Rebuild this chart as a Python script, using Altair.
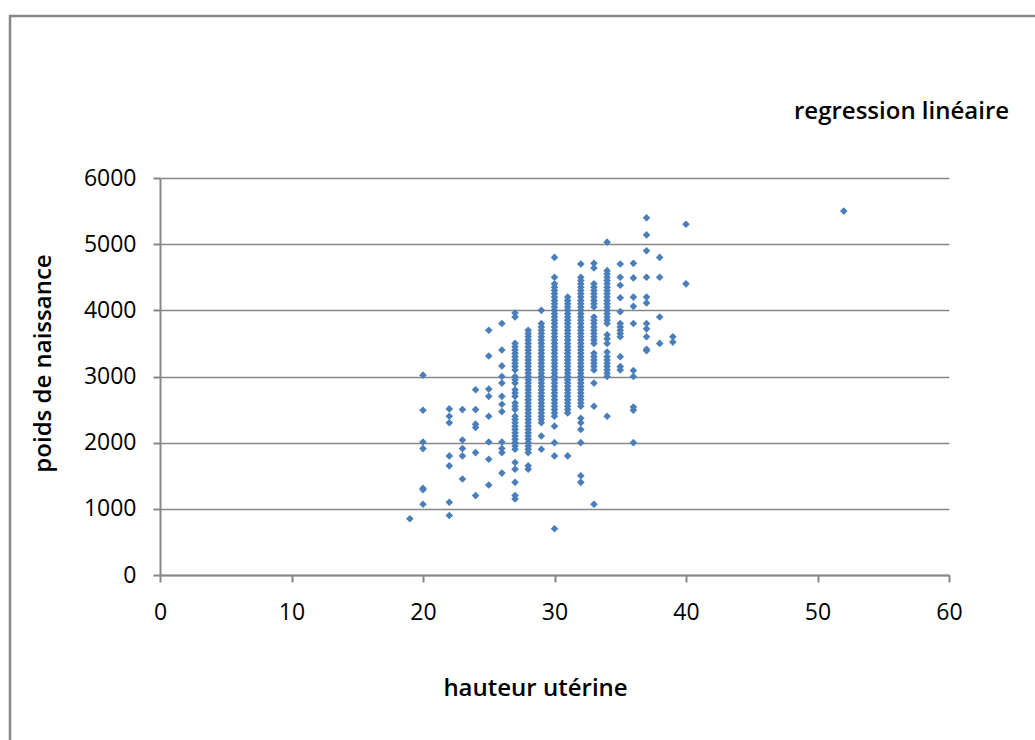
import altair as alt
import pandas as pd

# Birth weight (g) observed for each uterine height (cm)
weights_by_height = {
    19: [850],
    20: [3020, 2490, 2010, 1910, 1310, 1290, 1070],
    22: [2510, 2400, 2300, 1800, 1650, 1100, 900],
    23: [2500, 2040, 1910, 1800, 1450],
    24: [2800, 2500, 2280, 2230, 1850, 1200],
    25: [3700, 3310, 2810, 2700, 2400, 2010, 1750, 1360],
    26: [3800, 3400, 3160, 3000, 2900, 2700, 2580, 2470, 2010, 1910, 1850, 1540],
    27: [3960, 3900, 3500, 3450, 3400, 3350, 3300, 3250, 3200, 3150, 3100,
         3000, 2950, 2900, 2800, 2750, 2700, 2600, 2550, 2500, 2400, 2350,
         2300, 2250, 2200, 2150, 2100, 2050, 2000, 1950, 1900, 1700, 1600,
         1400, 1200, 1150],
    28: [3700, 3650, 3600, 3550, 3500, 3450, 3400, 3350, 3300, 3250, 3200,
         3150, 3100, 3050, 3000, 2950, 2900, 2850, 2800, 2750, 2700, 2650,
         2600, 2550, 2500, 2450, 2400, 2350, 2300, 2250, 2200, 2150, 2100,
         2050, 2000, 1950, 1900, 1850, 1650, 1600],
    29: [4000, 3800, 3750, 3700, 3650, 3600, 3550, 3500, 3450, 3400, 3350,
         3300, 3250, 3200, 3150, 3100, 3050, 3000, 2950, 2900, 2850, 2800,
         2750, 2700, 2650, 2600, 2550, 2500, 2450, 2400, 2350, 2300, 2100,
         1900],
    30: [4800, 4500, 4400, 4350, 4300, 4250, 4200, 4150, 4100, 4050, 4000,
         3950, 3900, 3850, 3800, 3750, 3700, 3650, 3600, 3550, 3500, 3450,
         3400, 3350, 3300, 3250, 3200, 3150, 3100, 3050, 3000, 2950, 2900,
         2850, 2800, 2750, 2700, 2650, 2600, 2550, 2500, 2450, 2400, 2250,
         2000, 1800, 700],
    31: [4200, 4150, 4100, 4050, 4000, 3950, 3900, 3850, 3800, 3750, 3700,
         3650, 3600, 3550, 3500, 3450, 3400, 3350, 3300, 3250, 3200, 3150,
         3100, 3050, 3000, 2950, 2900, 2850, 2800, 2750, 2700, 2650, 2600,
         2550, 2500, 2450, 1800],
    32: [4700, 4500, 4450, 4400, 4350, 4300, 4250, 4200, 4150, 4100, 4050,
         4000, 3950, 3900, 3850, 3800, 3750, 3700, 3650, 3600, 3550, 3500,
         3450, 3400, 3350, 3300, 3250, 3200, 3150, 3100, 3050, 3000, 2950,
         2900, 2850, 2800, 2750, 2700, 2650, 2600, 2550, 2370, 2300, 2200,
         2000, 1500, 1400],
    33: [4710, 4640, 4400, 4350, 4300, 4250, 4200, 4150, 4100, 4050, 3900,
         3850, 3800, 3750, 3700, 3650, 3600, 3550, 3500, 3350, 3300, 3250,
         3200, 3150, 3100, 2900, 2550, 1070],
    34: [5030, 4600, 4550, 4500, 4450, 4400, 4350, 4300, 4250, 4200, 4150,
         4100, 4050, 4000, 3950, 3900, 3850, 3800, 3630, 3570, 3500, 3370,
         3300, 3250, 3200, 3150, 3100, 3050, 3000, 2400],
    35: [4700, 4500, 4380, 4190, 3980, 3800, 3750, 3700, 3650, 3600, 3300,
         3150, 3100],
    36: [4710, 4490, 4200, 4060, 3800, 3090, 3000, 2540, 2490, 2000],
    37: [5400, 5140, 4900, 4500, 4200, 4110, 3800, 3720, 3600, 3410, 3390],
    38: [4800, 4500, 3900, 3500],
    39: [3600, 3520],
    40: [5300, 4400],
    52: [5500],
}

x_ticks = [0, 10, 20, 30, 40, 50, 60]
y_ticks = [0, 1000, 2000, 3000, 4000, 5000, 6000]

rows = [
    {"hauteur": h, "poids": w}
    for h, ws in weights_by_height.items()
    for w in ws
]
df = pd.DataFrame(rows)

FONT = "Open Sans"
GREY = "#878787"
BLUE = "#4A7EBB"

points = alt.Chart(df).mark_point(
    shape="diamond", filled=True, size=58, color=BLUE, opacity=1
).encode(
    x=alt.X(
        "hauteur:Q",
        scale=alt.Scale(domain=[0, 60], nice=False, zero=True),
        axis=alt.Axis(
            values=x_ticks,
            format="d",
            title="hauteur utérine",
            grid=False,
            labelFlush=False,
            titleX=375,
            titleY=113,
            titleBaseline="middle",
            labelPadding=19,
        ),
    ),
    y=alt.Y(
        "poids:Q",
        scale=alt.Scale(domain=[0, 6000], nice=False),
        axis=alt.Axis(
            values=y_ticks,
            format="d",
            title="poids de naissance",
            grid=True,
            labelFlush=False,
            titleX=-117,
            titleY=185,
            titleBaseline="middle",
            labelPadding=17,
        ),
    ),
)

# Outer frame around the whole chart
frame = alt.Chart(alt.Data(values=[{}])).mark_rect(
    filled=False, stroke=GREY, strokeWidth=2.5
).encode(
    x=alt.value(-150), x2=alt.value(885),
    y=alt.value(-162), y2=alt.value(575),
)

heading = alt.Chart(alt.Data(values=[{}])).mark_text(
    text="regression linéaire", font=FONT, fontSize=24, fontWeight=600,
    align="left", baseline="middle", color="#000000",
).encode(x=alt.value(634), y=alt.value(-66))

chart = alt.layer(frame, points, heading).properties(
    width=789,
    height=397,
    padding={"left": 160, "top": 178, "right": 86, "bottom": 165},
    autosize=alt.AutoSizeParams(type="none"),
    background="white",
).configure_view(
    stroke=None
).configure_axis(
    domainColor=GREY,
    domainWidth=2,
    tickColor=GREY,
    tickWidth=2,
    tickSize=7,
    gridColor=GREY,
    gridWidth=1.5,
    labelFont=FONT,
    labelFontSize=23,
    labelColor="#000000",
    titleFont=FONT,
    titleFontSize=24,
    titleFontWeight=600,
    titleColor="#000000",
)

chart.save("out.html", embed_options={"renderer": "svg", "actions": False})
